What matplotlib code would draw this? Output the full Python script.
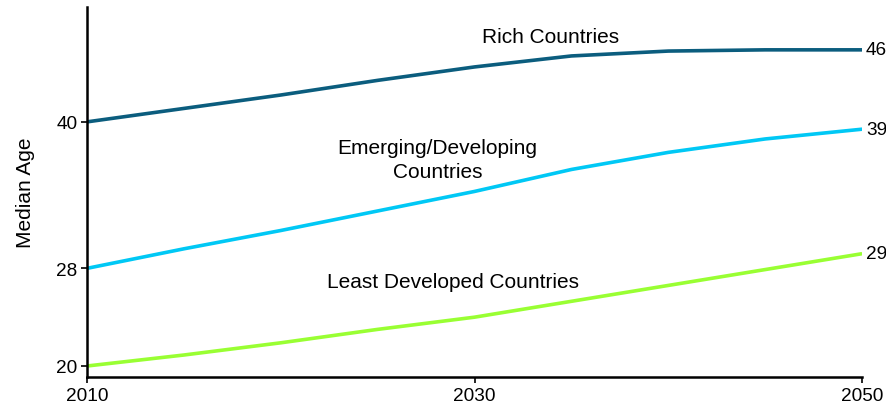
import matplotlib.pyplot as plt

plt.rcParams['font.family'] = ['Liberation Sans', 'DejaVu Sans']

years = [2010, 2015, 2020, 2025, 2030, 2035, 2040, 2045, 2050]
rich = [40.0, 41.1, 42.2, 43.4, 44.5, 45.4, 45.8, 45.9, 45.9]
emerging = [28.0, 29.6, 31.1, 32.7, 34.3, 36.1, 37.5, 38.6, 39.4]
least = [20.0, 20.9, 21.9, 23.0, 24.0, 25.3, 26.6, 27.9, 29.2]

x_ticks = [2010, 2030, 2050]
y_ticks = [20, 28, 40]

fig = plt.figure(figsize=(8.86, 4.06), dpi=100)
ax = fig.add_axes([0.0982, 0.069, 0.8748, 0.911])

series = [
	(rich, '#0b5d7e'),
	(emerging, '#00c8f5'),
	(least, '#99ff33'),
]
for vals, col in series:
	ax.plot(years, vals, color=col, linewidth=2.6, solid_capstyle='butt')
	ax.text(years[-1] + 0.2, vals[-1], f"{vals[-1]:.0f}", ha='left', va='center', fontsize=13.7)

# series names placed beside their lines
ax.text(2033.9, 47.0, "Rich Countries", ha='center', va='center', fontsize=15)
ax.text(2028.1, 36.9, "Emerging/Developing\nCountries", ha='center', va='center', fontsize=15, linespacing=1.3)
ax.text(2028.9, 26.9, "Least Developed Countries", ha='center', va='center', fontsize=15)

ax.set_xlim(2010, 2050)
ax.set_ylim(19.1, 49.4)
ax.set_xticks(x_ticks)
ax.set_yticks(y_ticks)
ax.tick_params(labelsize=13.7, length=4, width=1.2, pad=3)
ax.set_ylabel("Median Age", fontsize=15, labelpad=15)

for side in ['top', 'right']:
	ax.spines[side].set_visible(False)
for side in ['left', 'bottom']:
	ax.spines[side].set_linewidth(1.8)

plt.savefig("out.png", dpi=100)
